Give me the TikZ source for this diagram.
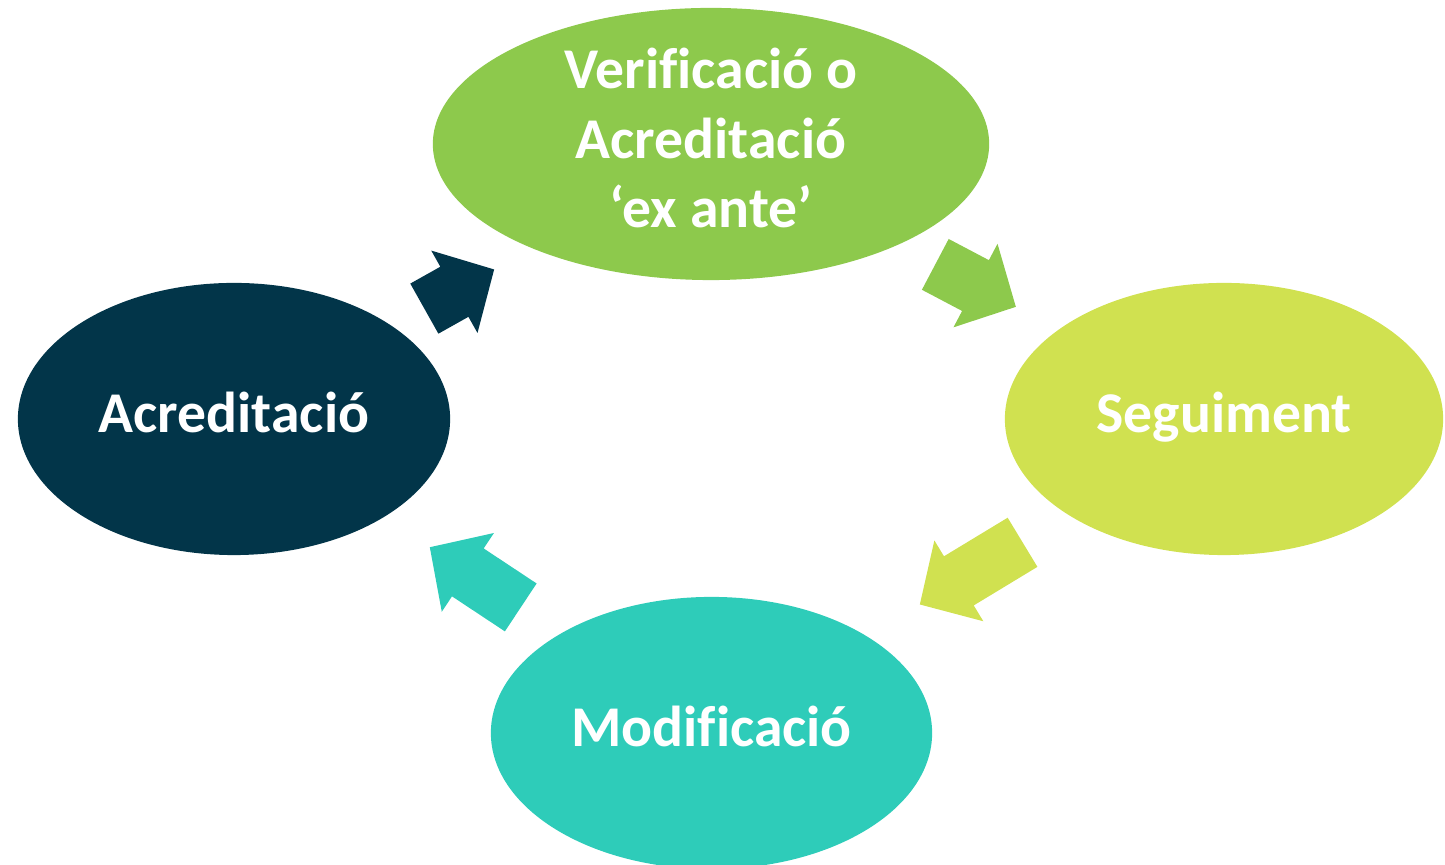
\documentclass[tikz,border=0pt]{standalone}
\usepackage{fontspec}
\setmainfont{Carlito}[Ligatures=NoCommon]
\usetikzlibrary{shapes.geometric,shapes.arrows}
\definecolor{verifgreen}{RGB}{141,201,76}
\definecolor{seglime}{RGB}{208,225,80}
\definecolor{modteal}{RGB}{46,204,185}
\definecolor{acrnavy}{RGB}{2,53,73}
\begin{document}
\begin{tikzpicture}[x=0.01cm, y=-0.01cm,
    stage/.style={ellipse, inner sep=0pt, minimum height=2.72cm, text=white,
      font=\fontsize{16.4}{19.7}\selectfont\bfseries, align=center},
    oneline/.style={text height=0.36cm, text depth=0.094cm},
    turn/.style={single arrow, draw=none, inner xsep=0pt, inner ysep=0.28cm,
      single arrow head extend=0.185cm, single arrow tip angle=92, anchor=tip}]
  \useasboundingbox (0,0) rectangle (1445,865);
  \node (verif) at (711,144) [stage, fill=verifgreen, minimum width=5.56cm, text depth=0.12cm] {Verificació o\\Acreditació\\‘ex ante’};
  \node (seg) at (1224,419) [stage, oneline, fill=seglime, minimum width=4.38cm] {Seguiment};
  \node (mod) at (711.5,733) [stage, oneline, fill=modteal, minimum width=4.41cm] {Modificació};
  \node (acr) at (234,419) [stage, oneline, fill=acrnavy, minimum width=4.32cm] {Acreditació};
  % arrows round the cycle
  \foreach \name/\tx/\ty/\ang/\len/\col in {a1/495/269/29.3/0.80cm/acrnavy,
      a2/1016.7/307.3/-27.8/0.91cm/verifgreen, a3/919/605/211.2/1.20cm/seglime,
      a4/429/546.7/146.5/1.09cm/modteal}
    \node (\name) at (\tx,\ty) [turn, rotate=\ang, minimum height=\len, fill=\col] {};
\end{tikzpicture}
\end{document}
